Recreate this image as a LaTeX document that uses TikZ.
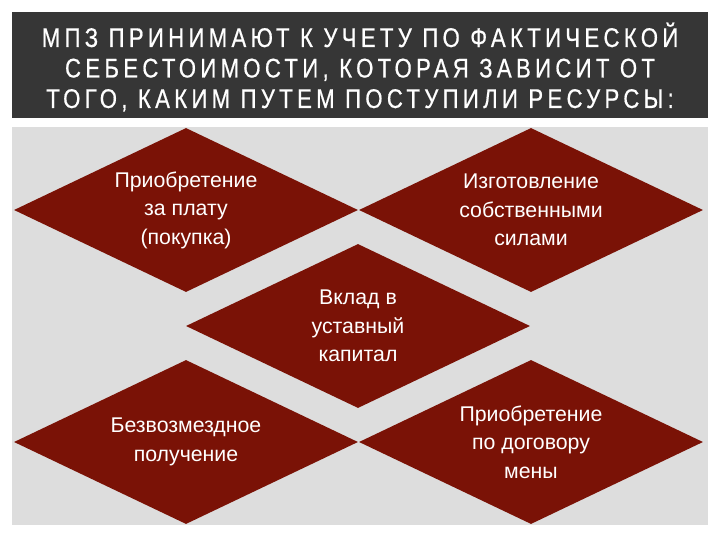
\documentclass[tikz,border=0pt]{standalone}
\usepackage{fontspec}
\setmainfont{Liberation Sans}
\newfontfamily\headfont[FakeStretch=0.82,LetterSpace=16,FakeBold=0.6]{Liberation Sans}
\usetikzlibrary{shapes.geometric}

\definecolor{bandgray}{HTML}{363636}
\definecolor{panelgray}{HTML}{DDDDDD}
\definecolor{rhombred}{HTML}{7A1206}

\begin{document}
\begin{tikzpicture}[x=1pt,y=-1pt]
    \tikzstyle{rhomb}=[diamond, shape aspect=2.1, fill=rhombred, draw=none,
        inner sep=0pt, minimum width=344pt, minimum height=164pt, text=white,
        align=center, font=\fontsize{21.3}{28.5}\selectfont]
    \useasboundingbox (0,0) rectangle (720,540);
    \fill [white] (0,0) rectangle (720,540);
    % header band
    \fill [bandgray] (12,12) rectangle (708,118);
    \node (title) at (360,67) [text=white, align=center,
        font=\headfont\fontsize{27}{30.5}\selectfont]
        {МПЗ ПРИНИМАЮТ К УЧЕТУ ПО ФАКТИЧЕСКОЙ\\
         СЕБЕСТОИМОСТИ, КОТОРАЯ ЗАВИСИТ ОТ\\
         ТОГО, КАКИМ ПУТЕМ ПОСТУПИЛИ РЕСУРСЫ:};
    % panel
    \fill [panelgray] (12,127) rectangle (708,525);
    % diamonds
    \node (purchase) at (186,210) [rhomb] {Приобретение\\за плату\\(покупка)};
    \node (own) at (531,210) [rhomb] {Изготовление\\собственными\\силами};
    \node (capital) at (358,326) [rhomb] {Вклад в\\уставный\\капитал};
    \node (gift) at (186,442) [rhomb] {Безвозмездное\\получение};
    \node (barter) at (531,442) [rhomb] {Приобретение\\по договору\\мены};
\end{tikzpicture}
\end{document}
